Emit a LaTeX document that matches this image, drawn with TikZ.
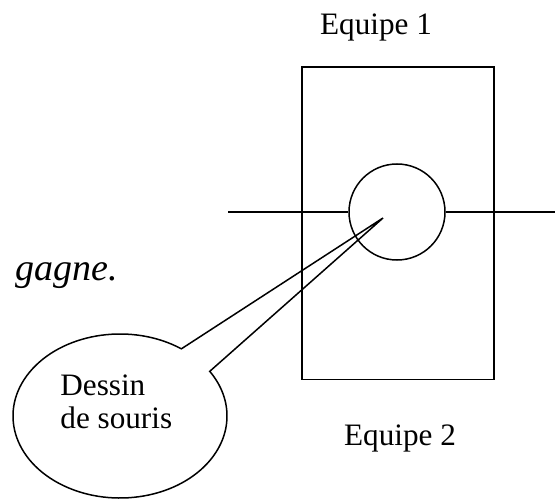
\documentclass[tikz,border=0pt]{standalone}
\usepackage{fontspec}
\setmainfont{Liberation Serif}
\newfontfamily\timesfont{Liberation Serif}
\usetikzlibrary{positioning,calc}

\begin{document}
\begin{tikzpicture}[
  x=0.5pt, y=0.5pt,
  trait/.style={line width=0.75pt},
  lbl/.style={inner sep=0pt, font=\timesfont\fontsize{15.6}{16.5}\selectfont},
  gros/.style={inner sep=0pt, font=\timesfont\fontsize{19}{22}\selectfont\itshape},
]
\useasboundingbox (0,0) rectangle (555,498);

%% Terrain et souris
\node[draw, trait, anchor=south west, inner sep=0pt,
      minimum width=96pt, minimum height=156pt] (terrain) at (301,118) {};
\node[draw, trait, circle, inner sep=0pt, minimum size=48pt] (souris) at (397,286) {};

\coordinate (ligneG) at (228,286);
\coordinate (ligneD) at (555,286);
\draw[trait] (ligneG) -- (souris.west);
\draw[trait] (souris.east) -- (ligneD);

%% Equipes
\node[lbl, anchor=base] (eq1) at (376,463) {Equipe 1};
\node[lbl, anchor=base] (eq2) at (400,53) {Equipe 2};

%% Texte coupe a gauche
\node[gros, anchor=base west] (gagne) at (15,218) {gagne.};

%% Bulle
\coordinate (bulle) at (120,82);
\coordinate (pointe) at (383,280);
\draw[trait, line join=miter] (pointe) -- ($(bulle)+(55:53.5pt and 41pt)$)
  arc[start angle=55, end angle=393, x radius=53.5pt, y radius=41pt] -- cycle;
\node[lbl, anchor=base west] (dessin) at (60,103) {Dessin};
\node[lbl, anchor=base west] (desouris) at (60,70) {de souris};

\end{tikzpicture}
\end{document}
